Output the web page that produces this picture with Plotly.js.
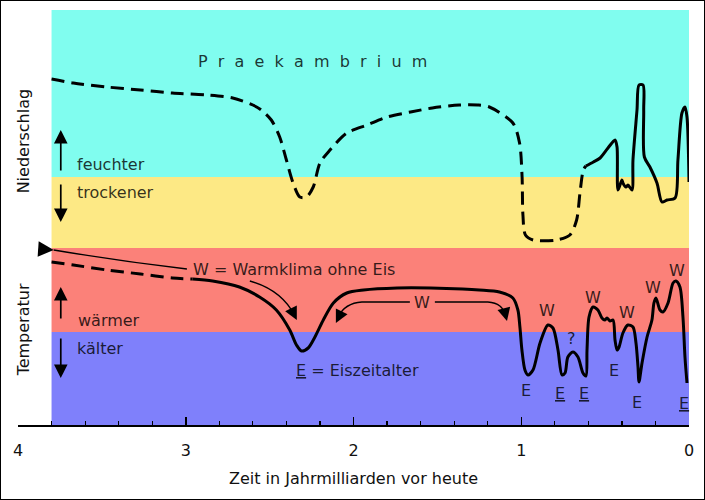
<!DOCTYPE html>
<html><head><meta charset="utf-8">
<script src="https://cdn.plot.ly/plotly-3.0.1.min.js"></script>
<style>
html,body{margin:0;padding:0;background:#fff;}
#wrap{position:relative;width:705px;height:500px;overflow:hidden;}
#chart{width:705px;height:500px;}
#frame{position:absolute;left:0;top:0;width:703px;height:498px;border:1px solid #000;pointer-events:none;}
</style></head><body>
<div id="wrap"><div id="chart"></div><div id="frame"></div></div>
<script>
// ---- data (time in billion years before present, relative level index) ----
const precipDashX = [3.80,3.67,3.47,3.27,3.08,2.87,2.72,2.60,2.55,2.49,2.44,2.40,2.36,2.32,2.28,2.24,2.20,2.14,2.04,1.92,1.80,1.66,1.53,1.37,1.26,1.19,1.05,1.01,0.995,0.99,0.975,0.93,0.79,0.71,0.67,0.65,0.63,0.615];
const precipDashY = [346,342,338,335,332,330,327,320,315,305,288,265,242,228,228,238,262,275,292,300,308,313,317,320,320,318,302,282,248,210,190,185,185,190,205,232,255,259];
const precipSolidX = [0.615,0.57,0.53,0.483,0.441,0.429,0.423,0.40,0.394,0.376,0.364,0.34,0.334,0.31,0.298,0.274,0.27,0.266,0.233,0.191,0.161,0.131,0.083,0.066,0.042,0.024,0.012,0];
const precipSolidY = [259,263,267,277,285,278,235,245,242,238,240,235,265,315,340,340,315,268,258,242,223,225,227,265,312,318,308,243];
const tempDashX = [3.80,3.67,3.47,3.27,3.08,2.96];
const tempDashY = [163,160,155,151,147,146];
const tempSolidX = [2.96,2.84,2.68,2.56,2.46,2.38,2.34,2.31,2.27,2.23,2.18,2.12,2.04,1.94,1.74,1.54,1.35,1.25,1.13,1.05,1.02,1.008,0.996,0.978,0.96,0.93,0.888,0.841,0.811,0.781,0.757,0.739,0.722,0.692,0.662,0.632,0.614,0.608,0.596,0.572,0.543,0.519,0.501,0.489,0.471,0.453,0.441,0.429,0.417,0.394,0.364,0.334,0.316,0.304,0.298,0.28,0.25,0.221,0.209,0.197,0.173,0.155,0.125,0.095,0.078,0.054,0.036,0.024,0.012];
const tempSolidY = [146,144,138,128,115,95,80,74,77,88,105,122,132,135,137,137,136,135,133,127,115,98,75,55,50,55,82,100,97,75,50,52,68,73,68,52,49,75,108,118,115,107,105,107,104,105,85,75,78,92,100,98,82,58,43,62,88,105,122,127,115,113,122,142,144,138,108,68,42];

const bandNames = ['feuchter','trockener','wärmer','kälter'];
const bandLow  = [248,177,93,0];
const bandHigh = [415,248,177,93];
const bandStart = 3.8, bandEnd = 0;

const tickVals = [4,3,2,1,0];
const tickText = ['4','3','2','1','0'];

// ---- styles ----
const bandColors = ['#80fdef','#fde985','#fb8179','#7f80fb'];
const FONT = 'DejaVu Sans, Verdana, sans-serif';
const TXT = 'rgba(0,0,0,0.8)';

const lineStyle = {color:'#000', width:3};
const traces = [
  {x:precipDashX, y:precipDashY, mode:'lines', line:Object.assign({dash:'13px,7px', shape:'spline', smoothing:0.8}, lineStyle), hoverinfo:'skip'},
  {x:precipSolidX, y:precipSolidY, mode:'lines', line:Object.assign({shape:'spline', smoothing:0.8}, lineStyle), hoverinfo:'skip'},
  {x:tempDashX, y:tempDashY, mode:'lines', line:Object.assign({dash:'13px,7px', shape:'spline', smoothing:0.8}, lineStyle), hoverinfo:'skip'},
  {x:tempSolidX, y:tempSolidY, mode:'lines', line:Object.assign({shape:'spline', smoothing:0.8}, lineStyle), hoverinfo:'skip'}
];

const shapes = bandNames.map((n,i)=>({type:'rect', xref:'x', yref:'y', x0:bandStart, x1:bandEnd, y0:bandLow[i], y1:bandHigh[i], fillcolor:bandColors[i], line:{width:0}, layer:'below'}));
const thin = {color:'#000', width:1.3};
shapes.push(
  {type:'path', xref:'x', yref:'y', path:'M 3.787,175 Q 3.40,164 2.993,156', line:thin, layer:'above'},
  {type:'path', xref:'x', yref:'y', path:'M 2.618,144 Q 2.427,135 2.349,109', line:thin, layer:'above'},
  {type:'path', xref:'x', yref:'y', path:'M 1.664,123 L 1.95,123 Q 2.051,122 2.092,108', line:thin, layer:'above'},
  {type:'path', xref:'x', yref:'y', path:'M 1.515,123 L 1.199,123 Q 1.109,122 1.093,109', line:thin, layer:'above'}
);

function txt(text, x, y, opts){
  return Object.assign({text:text, x:x, y:y, xref:'x', yref:'y', showarrow:false, font:{family:FONT, size:16, color:TXT}}, opts||{});
}
function arr(x, y, ax, ay, w, s){
  return {x:x, y:y, xref:'x', yref:'y', ax:ax, ay:ay, text:'', showarrow:true, arrowhead:2, arrowsize:s||1.6, arrowwidth:w||1.7, arrowcolor:'#000', standoff:0, startstandoff:0};
}
const annotations = [
  txt('P\u00a0\u00a0r\u00a0\u00a0a\u00a0\u00a0e\u00a0\u00a0k\u00a0\u00a0a\u00a0\u00a0m\u00a0\u00a0b\u00a0\u00a0r\u00a0\u00a0i\u00a0\u00a0u\u00a0\u00a0m', 2.242, 364),
  txt(bandNames[0], 3.661, 261, {xanchor:'left'}),
  txt(bandNames[1], 3.661, 233, {xanchor:'left'}),
  txt(bandNames[2], 3.655, 105, {xanchor:'left'}),
  txt(bandNames[3], 3.661, 77, {xanchor:'left'}),
  txt('Niederschlag', 3.968, 284, {textangle:-90, font:{family:FONT, size:16, color:'#111'}}),
  txt('Temperatur', 3.968, 95, {textangle:-90, font:{family:FONT, size:16, color:'#111'}}),
  txt('W = Warmklima ohne Eis', 2.352, 156),
  txt('W', 1.592, 123),
  txt('<u>E</u> = Eiszeitalter', 1.977, 55),
  txt('W', 0.847, 115), txt('W', 0.572, 128), txt('W', 0.370, 113), txt('W', 0.215, 138), txt('W', 0.072, 155),
  txt('?', 0.698, 87),
  txt('E', 0.972, 35), txt('<u>E</u>', 0.769, 32), txt('<u>E</u>', 0.626, 32),
  txt('E', 0.447, 55), txt('E', 0.310, 23), txt('<u>E</u>', 0.030, 22),
  // direction arrows
  arr(3.745, 295, 0, 42), arr(3.745, 203, 0, -39),
  arr(3.745, 138, 0, 33), arr(3.745, 47, 0, -41),
  // arrowheads of the thin pointer lines
  arr(3.787, 175, -15, -1, 1.3, 2.4),
  arr(2.338, 105, -6, -12, 1.3, 2.0),
  arr(2.105, 102, 6, -12, 1.3, 2.0),
  arr(1.085, 104, -3, -12, 1.3, 2.0)
];

const layout = {
  width:705, height:500,
  margin:{l:18, r:16, t:10, b:75},
  paper_bgcolor:'#fff', plot_bgcolor:'#fff',
  showlegend:false,
  xaxis:{range:[4,0], showline:true, linecolor:'#000', linewidth:2, ticks:'inside', ticklen:8, tickwidth:1.5, tickcolor:'#000',
    tickvals:tickVals, ticktext:tickText, tickfont:{family:FONT, size:16, color:'#111'}, ticklabelstandoff:10,
    minor:{dtick:0.2, tick0:0, ticks:'inside', ticklen:4, tickwidth:1.2, tickcolor:'#000', showgrid:false},
    showgrid:false, zeroline:false, fixedrange:true,
    title:{text:'Zeit in Jahrmilliarden vor heute', font:{family:FONT, size:16, color:'#111'}}},
  yaxis:{range:[0,415], visible:false, fixedrange:true},
  shapes:shapes,
  annotations:annotations
};
Plotly.newPlot('chart', traces, layout, {displayModeBar:false, staticPlot:true});
</script>
</body></html>
